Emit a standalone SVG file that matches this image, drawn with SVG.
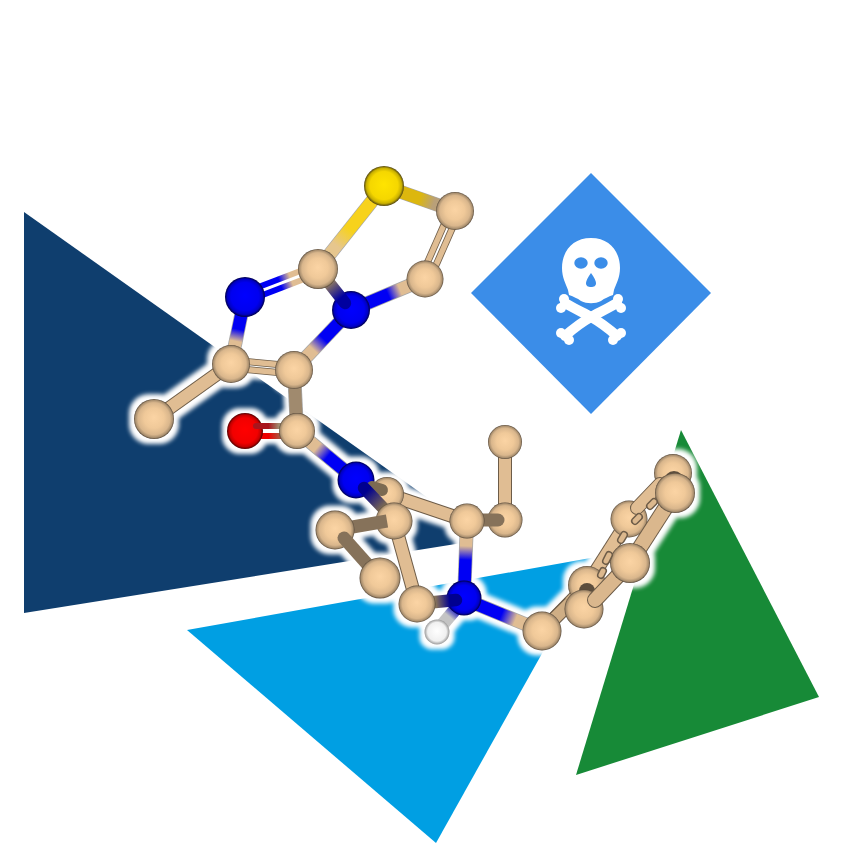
<svg xmlns="http://www.w3.org/2000/svg" width="844" height="844" viewBox="0 0 844 844">
<defs>
<radialGradient id="c" cx="50%" cy="50%" r="50%" fx="50%" fy="46%"><stop offset="0" stop-color="#fbd4a4"/><stop offset=".5" stop-color="#f0c999"/><stop offset=".8" stop-color="#d9b68c"/><stop offset=".93" stop-color="#a98f6f"/><stop offset="1" stop-color="#57493a"/></radialGradient>
<radialGradient id="n" cx="50%" cy="50%" r="50%" fx="50%" fy="46%"><stop offset="0" stop-color="#0000ff"/><stop offset=".7" stop-color="#0000f0"/><stop offset=".88" stop-color="#0000c4"/><stop offset="1" stop-color="#000048"/></radialGradient>
<radialGradient id="s" cx="50%" cy="50%" r="50%" fx="50%" fy="46%"><stop offset="0" stop-color="#ffe400"/><stop offset=".7" stop-color="#f5d700"/><stop offset=".88" stop-color="#c9b000"/><stop offset="1" stop-color="#524612"/></radialGradient>
<radialGradient id="o" cx="50%" cy="50%" r="50%" fx="50%" fy="46%"><stop offset="0" stop-color="#ff0000"/><stop offset=".7" stop-color="#f20000"/><stop offset=".88" stop-color="#c40000"/><stop offset="1" stop-color="#500000"/></radialGradient>
<radialGradient id="h" cx="50%" cy="50%" r="50%" fx="50%" fy="46%"><stop offset="0" stop-color="#ffffff"/><stop offset=".75" stop-color="#f0f0f0"/><stop offset="1" stop-color="#9a9a9a"/></radialGradient>
<filter id="halo" x="-10%" y="-10%" width="120%" height="120%" color-interpolation-filters="sRGB">
<feMorphology in="SourceAlpha" operator="dilate" radius="5" result="d"/>
<feGaussianBlur in="d" stdDeviation="2" result="b"/>
<feFlood flood-color="#ffffff"/>
<feComposite in2="b" operator="in" result="w"/>
<feMerge><feMergeNode in="w"/><feMergeNode in="SourceGraphic"/></feMerge>
</filter>
<linearGradient id="g1" gradientUnits="userSpaceOnUse" x1="384" y1="186" x2="318" y2="269"><stop offset=".52" stop-color="#f7d21c"/><stop offset=".72" stop-color="#e6c68e"/></linearGradient>
<linearGradient id="g2" gradientUnits="userSpaceOnUse" x1="384" y1="186" x2="455" y2="211"><stop offset=".5" stop-color="#dcb70e"/><stop offset=".7" stop-color="#b9a079"/></linearGradient>
<linearGradient id="g3" gradientUnits="userSpaceOnUse" x1="351" y1="310" x2="425" y2="279"><stop offset=".5" stop-color="#0000f4"/><stop offset=".66" stop-color="#e0bd93"/></linearGradient>
<linearGradient id="g4" gradientUnits="userSpaceOnUse" x1="318" y1="269" x2="351" y2="310"><stop offset=".35" stop-color="#8d7860"/><stop offset=".7" stop-color="#0000a0"/></linearGradient>
<linearGradient id="g5" gradientUnits="userSpaceOnUse" x1="245" y1="297" x2="318" y2="269"><stop offset=".48" stop-color="#0000f4"/><stop offset=".63" stop-color="#e0bd93"/></linearGradient>
<linearGradient id="g6" gradientUnits="userSpaceOnUse" x1="245" y1="297" x2="231" y2="364"><stop offset=".48" stop-color="#0000f4"/><stop offset=".66" stop-color="#e0bd93"/></linearGradient>
<linearGradient id="g7" gradientUnits="userSpaceOnUse" x1="351" y1="310" x2="294" y2="370"><stop offset=".48" stop-color="#0000f4"/><stop offset=".66" stop-color="#e0bd93"/></linearGradient>
<linearGradient id="g8" gradientUnits="userSpaceOnUse" x1="245" y1="431" x2="297" y2="431"><stop offset=".45" stop-color="#a8141c"/><stop offset=".65" stop-color="#a08a6e"/></linearGradient>
<linearGradient id="g15" gradientUnits="userSpaceOnUse" x1="245" y1="431" x2="297" y2="431"><stop offset=".45" stop-color="#ee0000"/><stop offset=".65" stop-color="#b0503c"/></linearGradient>
<linearGradient id="g9" gradientUnits="userSpaceOnUse" x1="356" y1="480" x2="297" y2="431"><stop offset=".48" stop-color="#0000f4"/><stop offset=".66" stop-color="#e0bd93"/></linearGradient>
<linearGradient id="g10" gradientUnits="userSpaceOnUse" x1="361" y1="485" x2="390" y2="515"><stop offset=".2" stop-color="#000090"/><stop offset=".75" stop-color="#7c6a52"/></linearGradient>
<linearGradient id="g11" gradientUnits="userSpaceOnUse" x1="464" y1="599" x2="467" y2="521"><stop offset=".5" stop-color="#0000f4"/><stop offset=".68" stop-color="#e0bd93"/></linearGradient>
<linearGradient id="g12" gradientUnits="userSpaceOnUse" x1="417" y1="604" x2="464" y2="599"><stop offset=".4" stop-color="#86725a"/><stop offset=".7" stop-color="#000090"/></linearGradient>
<linearGradient id="g13" gradientUnits="userSpaceOnUse" x1="464" y1="599" x2="542" y2="631"><stop offset=".48" stop-color="#0000f4"/><stop offset=".66" stop-color="#e0bd93"/></linearGradient>
<linearGradient id="g14" gradientUnits="userSpaceOnUse" x1="464" y1="599" x2="437" y2="631"><stop offset=".3" stop-color="#0000c0"/><stop offset=".55" stop-color="#c4c4c4"/></linearGradient>
<style>
line{fill:none}
.s{stroke-width:12.5}
.o{stroke:#000;stroke-opacity:.35;stroke-width:14}
.r{stroke-linecap:round}
.k{stroke:#6d5c48;stroke-width:14}
.t{stroke:#e0bd93;stroke-width:12}
.d{stroke:#86725a;stroke-width:13}
.m{stroke:#cfae85;stroke-width:12}
.kw{stroke:#6d5c48;stroke-width:16}
.tw{stroke:#dab78d;stroke-width:14}
.k2{stroke:#6d5c48;stroke-width:7}
.t2{stroke:#e0bd93;stroke-width:5.5}
.w{stroke-width:6}
.cap{stroke:#6d5c48;stroke-width:8;stroke-linecap:round}
.cap2{stroke:#dcb88d;stroke-width:5;stroke-linecap:round}
.bone{fill:none;stroke:#fff;stroke-width:10;stroke-linecap:round}
</style>
</defs>
<rect width="844" height="844" fill="#fff"/>
<polygon points="24,212 452,515 462,543 24,613" fill="#0f3e6e"/>
<polygon points="187,630 596,557 436,843" fill="#009fe3"/>
<polygon points="681,430 819,697 576,775" fill="#178a37"/>
<polygon points="591,173 711,293 591,414 471,293" fill="#3b8de8"/>
<g id="skull" fill="#fff">
<path d="M591 238C572 238 562 252 562 268C562 278 566 284 568 290L569 295C574 297 577 298 581 301C587 304 595 304 601 301C605 298 608 297 613 295L614 290C616 284 620 278 620 268C620 252 610 238 591 238Z"/>
<ellipse cx="581" cy="263" rx="6.7" ry="5.8" fill="#3b8de8"/>
<ellipse cx="601" cy="263" rx="6.7" ry="5.8" fill="#3b8de8"/>
<path d="M591 273C594 277 596 281 596 283C596 286 594 287 591 287C588 287 586 286 586 283C586 281 588 277 591 273Z" fill="#3b8de8"/>
<path class="bone" d="M565 303C575 309 584 313 591 317C598 321 608 328 617 336"/>
<path class="bone" d="M617 303C607 309 598 313 591 317C584 321 574 328 565 336"/>
<circle cx="561" cy="308" r="5"/><circle cx="564" cy="299" r="5"/>
<circle cx="621" cy="308" r="5"/><circle cx="618" cy="299" r="5"/>
<circle cx="561" cy="333" r="5"/><circle cx="569" cy="340" r="5"/>
<circle cx="621" cy="333" r="5"/><circle cx="613" cy="340" r="5"/>
</g>
<g id="molecule" filter="url(#halo)">
<g id="connectors-back">
<line class="o" x1="384" y1="186" x2="318" y2="269"/><line class="s" stroke="url(#g1)" x1="384" y1="186" x2="318" y2="269"/>
<line class="o" x1="384" y1="186" x2="455" y2="211"/><line class="s" stroke="url(#g2)" x1="384" y1="186" x2="455" y2="211"/>
<line class="k2" x1="459" y1="213" x2="429" y2="281"/><line class="t2" x1="459" y1="213" x2="429" y2="281"/>
<line class="k2" x1="451" y1="209" x2="421" y2="277"/><line class="t2" x1="451" y1="209" x2="421" y2="277"/>
<line class="o" x1="351" y1="310" x2="425" y2="279"/><line class="s" stroke="url(#g3)" x1="351" y1="310" x2="425" y2="279"/>
<line class="w" stroke="url(#g5)" x1="247" y1="301" x2="320" y2="273"/>
<line class="w" stroke="url(#g5)" x1="243" y1="293" x2="316" y2="265"/>
<line class="o" x1="245" y1="297" x2="231" y2="364"/><line class="s" stroke="url(#g6)" x1="245" y1="297" x2="231" y2="364"/>
<line class="o" x1="351" y1="310" x2="294" y2="370"/><line class="s" stroke="url(#g7)" x1="351" y1="310" x2="294" y2="370"/>
<line class="k2" x1="231" y1="360" x2="294" y2="366"/><line class="t2" x1="231" y1="360" x2="294" y2="366"/>
<line class="k2" x1="231" y1="368" x2="294" y2="374"/><line class="t2" x1="231" y1="368" x2="294" y2="374"/>
<line class="k" x1="231" y1="364" x2="154" y2="419"/><line class="t" x1="231" y1="364" x2="154" y2="419"/>
<line class="o" x1="294" y1="370" x2="297" y2="431"/><line stroke="#a08a6e" stroke-width="12.5" x1="294" y1="370" x2="297" y2="431"/>
<line class="o" x1="356" y1="480" x2="297" y2="431"/><line class="s" stroke="url(#g9)" x1="356" y1="480" x2="297" y2="431"/>
<line class="k" x1="387" y1="494" x2="467" y2="521"/><line class="t" x1="387" y1="494" x2="467" y2="521"/>
<line class="k" x1="505" y1="442" x2="505" y2="520"/><line class="t" x1="505" y1="442" x2="505" y2="520"/>
<line class="o" x1="464" y1="599" x2="467" y2="521"/><line class="s" stroke="url(#g11)" x1="464" y1="599" x2="467" y2="521"/>
<line class="o" x1="464" y1="599" x2="542" y2="631"/><line class="s" stroke="url(#g13)" x1="464" y1="599" x2="542" y2="631"/>
<line stroke="url(#g14)" stroke-width="13" x1="464" y1="599" x2="437" y2="631"/>
<line class="k" x1="394" y1="521" x2="417" y2="604"/><line class="t" x1="394" y1="521" x2="417" y2="604"/>
</g>
<g id="atoms">
<circle cx="384" cy="186" r="20" fill="url(#s)"/>
<circle cx="455" cy="211" r="19" fill="url(#c)"/>
<circle cx="425" cy="279" r="18.5" fill="url(#c)"/>
<circle cx="351" cy="310" r="19" fill="url(#n)"/>
<line class="s r" stroke="url(#g4)" x1="330" y1="284" x2="345" y2="303"/>
<circle cx="318" cy="269" r="20" fill="url(#c)"/>
<circle cx="245" cy="297" r="20" fill="url(#n)"/>
<circle cx="231" cy="364" r="19" fill="url(#c)"/>
<circle cx="294" cy="370" r="19" fill="url(#c)"/>
<circle cx="154" cy="419" r="20" fill="url(#c)"/>
<line class="w" stroke="url(#g15)" x1="245" y1="436" x2="297" y2="436"/>
<circle cx="245" cy="431" r="18" fill="url(#o)"/>
<line class="w r" stroke="url(#g8)" x1="256" y1="426" x2="297" y2="426"/>
<circle cx="297" cy="431" r="18" fill="url(#c)"/>
<circle cx="387" cy="494" r="17" fill="url(#c)"/>
<circle cx="356" cy="480" r="18.5" fill="url(#n)"/>
<line stroke="#7c6a52" stroke-width="12" stroke-linecap="round" x1="372" y1="487" x2="382" y2="490"/>
<line class="s r" stroke="url(#g10)" x1="364" y1="488" x2="386" y2="511"/>
<circle cx="394" cy="521" r="18.5" fill="url(#c)"/>
<line class="d" x1="335" y1="530" x2="387" y2="521"/>
<circle cx="335" cy="530" r="19.5" fill="url(#c)"/>
<line class="d r" x1="344" y1="538" x2="376" y2="574"/>
<circle cx="380" cy="578" r="20.5" fill="url(#c)"/>
<circle cx="505" cy="520" r="17.5" fill="url(#c)"/>
<line class="d r" x1="470" y1="520" x2="498" y2="520"/>
<circle cx="467" cy="521" r="17.5" fill="url(#c)"/>
<circle cx="505" cy="442" r="17" fill="url(#c)"/>
<circle cx="437" cy="632" r="12.5" fill="url(#h)"/>
<circle cx="464" cy="598" r="17.5" fill="url(#n)"/>
<line class="s r" stroke="url(#g12)" x1="425" y1="603" x2="456" y2="600"/>
<circle cx="417" cy="604" r="18.5" fill="url(#c)"/>
</g>
<g id="ring">
<line class="k" x1="587" y1="585" x2="629" y2="519"/><line class="t" x1="587" y1="585" x2="629" y2="519"/>
<line class="k" x1="542" y1="631" x2="587" y2="585"/><line class="m" x1="542" y1="631" x2="587" y2="585"/>
<circle cx="587" cy="585" r="19" fill="url(#c)"/>
<circle cx="629" cy="519" r="18.5" fill="url(#c)"/>
<circle cx="673" cy="473" r="19" fill="url(#c)"/>
<line class="k r" x1="637" y1="508" x2="660" y2="484"/><line class="t r" x1="637" y1="508" x2="660" y2="484"/>
<line class="k" x1="542" y1="631" x2="570" y2="603"/><line class="m" x1="542" y1="631" x2="570" y2="603"/>
<circle cx="542" cy="631" r="19.5" fill="url(#c)"/>
<circle cx="674" cy="481" r="10" fill="#5d4e3d"/>
<circle cx="587" cy="591" r="8" fill="#5d4e3d"/>
<circle cx="584" cy="609" r="19.5" fill="url(#c)"/>
<line class="kw r" x1="595" y1="600" x2="630" y2="563"/><line class="tw r" x1="595" y1="600" x2="630" y2="563"/>
<line class="kw" x1="630" y1="563" x2="675" y2="493"/><line class="tw" x1="630" y1="563" x2="675" y2="493"/>
<circle cx="630" cy="563" r="20" fill="url(#c)"/>
<circle cx="675" cy="493" r="20" fill="url(#c)"/>
<g id="inner-bonds">
<line class="cap" x1="635" y1="521" x2="639" y2="517"/><line class="cap" x1="650" y1="506" x2="654" y2="502"/><line class="cap" x1="621" y1="540" x2="624" y2="535"/><line class="cap" x1="606" y1="561" x2="609" y2="555"/><line class="cap" x1="601" y1="575" x2="603" y2="571"/>
<line class="cap2" x1="635" y1="521" x2="639" y2="517"/><line class="cap2" x1="650" y1="506" x2="654" y2="502"/><line class="cap2" x1="621" y1="540" x2="624" y2="535"/><line class="cap2" x1="606" y1="561" x2="609" y2="555"/><line class="cap2" x1="601" y1="575" x2="603" y2="571"/>
</g>
</g>
</g>
</svg>
